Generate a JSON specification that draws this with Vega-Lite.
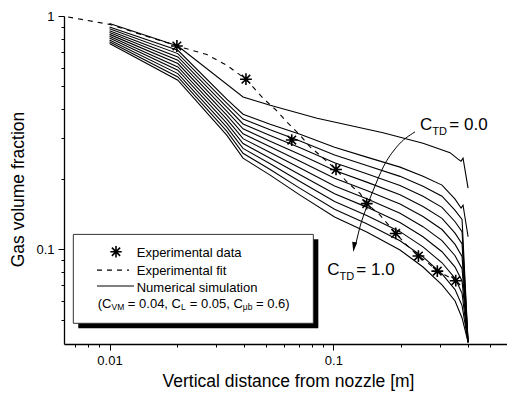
{
  "$schema": "https://vega.github.io/schema/vega-lite/v6.json",
  "width": 443,
  "height": 328,
  "autosize": "none",
  "padding": {"left": 64, "top": 16, "right": 0, "bottom": 53},
  "background": "white",
  "config": {
    "view": {"stroke": null},
    "font": "Liberation Sans",
    "axis": {"domainColor": "black", "domainWidth": 1.3, "tickColor": "black", "tickWidth": 1, "labelFontSize": 13, "labelColor": "black", "labelPadding": 4, "labelOverlap": false, "labelFlush": false, "titleFontSize": 17.5, "titleFontWeight": "normal", "titleColor": "black", "titleBaseline": "alphabetic", "grid": false}
  },
  "datasets": {
    "curves": [
      {"c":0,"x":0.01,"y":0.928},{"c":0,"x":0.0202,"y":0.744},{"c":0,"x":0.0395,"y":0.45},{"c":0,"x":0.0522,"y":0.4147},{"c":0,"x":0.0846,"y":0.3649},{"c":0,"x":0.1668,"y":0.3162},{"c":0,"x":0.2516,"y":0.2851},{"c":0,"x":0.3322,"y":0.2597},{"c":0,"x":0.3608,"y":0.2435},{"c":0,"x":0.3721,"y":0.2388},{"c":0,"x":0.3798,"y":0.2459},{"c":0,"x":0.4,"y":0.183},
      {"c":1,"x":0.01,"y":0.8973},{"c":1,"x":0.0202,"y":0.7132},{"c":1,"x":0.0334,"y":0.44},{"c":1,"x":0.0395,"y":0.3795},{"c":1,"x":0.0522,"y":0.3439},{"c":1,"x":0.071,"y":0.3116},{"c":1,"x":0.1013,"y":0.2741},{"c":1,"x":0.141,"y":0.2484},{"c":1,"x":0.1986,"y":0.2251},{"c":1,"x":0.2516,"y":0.2059},{"c":1,"x":0.3059,"y":0.1885},{"c":1,"x":0.3499,"y":0.1642},{"c":1,"x":0.3721,"y":0.1502},{"c":1,"x":0.3798,"y":0.1547},{"c":1,"x":0.4,"y":0.1132},
      {"c":2,"x":0.01,"y":0.881},{"c":2,"x":0.0202,"y":0.69},{"c":2,"x":0.0334,"y":0.423},{"c":2,"x":0.0395,"y":0.3617},{"c":2,"x":0.0522,"y":0.3252},{"c":2,"x":0.071,"y":0.2914},{"c":2,"x":0.1013,"y":0.2539},{"c":2,"x":0.141,"y":0.2288},{"c":2,"x":0.1986,"y":0.2055},{"c":2,"x":0.2516,"y":0.1864},{"c":2,"x":0.3059,"y":0.1689},{"c":2,"x":0.3499,"y":0.1469},{"c":2,"x":0.376,"y":0.1344},{"c":2,"x":0.4,"y":0.04},
      {"c":3,"x":0.01,"y":0.8651},{"c":3,"x":0.0202,"y":0.6678},{"c":3,"x":0.0334,"y":0.4067},{"c":3,"x":0.0395,"y":0.3446},{"c":3,"x":0.0522,"y":0.3075},{"c":3,"x":0.071,"y":0.2726},{"c":3,"x":0.1013,"y":0.2351},{"c":3,"x":0.141,"y":0.2107},{"c":3,"x":0.1986,"y":0.1876},{"c":3,"x":0.2516,"y":0.1687},{"c":3,"x":0.3059,"y":0.1514},{"c":3,"x":0.3499,"y":0.1313},{"c":3,"x":0.376,"y":0.119},{"c":3,"x":0.4,"y":0.04},
      {"c":4,"x":0.01,"y":0.8495},{"c":4,"x":0.0202,"y":0.6463},{"c":4,"x":0.0334,"y":0.3908},{"c":4,"x":0.0395,"y":0.3284},{"c":4,"x":0.0522,"y":0.2908},{"c":4,"x":0.071,"y":0.2549},{"c":4,"x":0.1013,"y":0.2178},{"c":4,"x":0.141,"y":0.1941},{"c":4,"x":0.1986,"y":0.1713},{"c":4,"x":0.2516,"y":0.1527},{"c":4,"x":0.3059,"y":0.1358},{"c":4,"x":0.3499,"y":0.1174},{"c":4,"x":0.376,"y":0.1054},{"c":4,"x":0.4,"y":0.04},
      {"c":5,"x":0.01,"y":0.8342},{"c":5,"x":0.0202,"y":0.6254},{"c":5,"x":0.0334,"y":0.3757},{"c":5,"x":0.0395,"y":0.3129},{"c":5,"x":0.0522,"y":0.275},{"c":5,"x":0.071,"y":0.2385},{"c":5,"x":0.1013,"y":0.2017},{"c":5,"x":0.141,"y":0.1788},{"c":5,"x":0.1986,"y":0.1565},{"c":5,"x":0.2516,"y":0.1383},{"c":5,"x":0.3059,"y":0.1216},{"c":5,"x":0.3499,"y":0.105},{"c":5,"x":0.376,"y":0.0933},{"c":5,"x":0.4,"y":0.04},
      {"c":6,"x":0.01,"y":0.8192},{"c":6,"x":0.0202,"y":0.6051},{"c":6,"x":0.0334,"y":0.3613},{"c":6,"x":0.0395,"y":0.2982},{"c":6,"x":0.0522,"y":0.26},{"c":6,"x":0.071,"y":0.2231},{"c":6,"x":0.1013,"y":0.1868},{"c":6,"x":0.141,"y":0.1647},{"c":6,"x":0.1986,"y":0.1429},{"c":6,"x":0.2516,"y":0.1251},{"c":6,"x":0.3059,"y":0.109},{"c":6,"x":0.3499,"y":0.0939},{"c":6,"x":0.376,"y":0.0826},{"c":6,"x":0.4,"y":0.04},
      {"c":7,"x":0.01,"y":0.8044},{"c":7,"x":0.0202,"y":0.5855},{"c":7,"x":0.0334,"y":0.3473},{"c":7,"x":0.0395,"y":0.2842},{"c":7,"x":0.0522,"y":0.2459},{"c":7,"x":0.071,"y":0.2087},{"c":7,"x":0.1013,"y":0.173},{"c":7,"x":0.141,"y":0.1517},{"c":7,"x":0.1986,"y":0.1304},{"c":7,"x":0.2516,"y":0.1132},{"c":7,"x":0.3059,"y":0.0977},{"c":7,"x":0.3499,"y":0.084},{"c":7,"x":0.376,"y":0.0732},{"c":7,"x":0.4,"y":0.04},
      {"c":8,"x":0.01,"y":0.7899},{"c":8,"x":0.0202,"y":0.5666},{"c":8,"x":0.0334,"y":0.3339},{"c":8,"x":0.0395,"y":0.2708},{"c":8,"x":0.0522,"y":0.2326},{"c":8,"x":0.071,"y":0.1952},{"c":8,"x":0.1013,"y":0.1603},{"c":8,"x":0.141,"y":0.1398},{"c":8,"x":0.1986,"y":0.1191},{"c":8,"x":0.2516,"y":0.1025},{"c":8,"x":0.3059,"y":0.0876},{"c":8,"x":0.3499,"y":0.0751},{"c":8,"x":0.376,"y":0.0648},{"c":8,"x":0.4,"y":0.04},
      {"c":9,"x":0.01,"y":0.7757},{"c":9,"x":0.0202,"y":0.5483},{"c":9,"x":0.0334,"y":0.321},{"c":9,"x":0.0395,"y":0.2581},{"c":9,"x":0.0522,"y":0.2199},{"c":9,"x":0.071,"y":0.1825},{"c":9,"x":0.1013,"y":0.1485},{"c":9,"x":0.141,"y":0.1287},{"c":9,"x":0.1986,"y":0.1088},{"c":9,"x":0.2516,"y":0.0928},{"c":9,"x":0.3059,"y":0.0785},{"c":9,"x":0.3499,"y":0.0672},{"c":9,"x":0.376,"y":0.0574},{"c":9,"x":0.4,"y":0.04},
      {"c":10,"x":0.01,"y":0.7617},{"c":10,"x":0.0202,"y":0.5306},{"c":10,"x":0.0334,"y":0.3085},{"c":10,"x":0.0395,"y":0.2459},{"c":10,"x":0.0522,"y":0.208},{"c":10,"x":0.071,"y":0.1708},{"c":10,"x":0.1013,"y":0.1375},{"c":10,"x":0.141,"y":0.1186},{"c":10,"x":0.1986,"y":0.0993},{"c":10,"x":0.2516,"y":0.084},{"c":10,"x":0.3059,"y":0.0704},{"c":10,"x":0.3499,"y":0.0601},{"c":10,"x":0.376,"y":0.0508},{"c":10,"x":0.4,"y":0.04}
    ],
    "fit": [
      {"x":0.00653,"y":0.99},{"x":0.01,"y":0.921},{"x":0.02,"y":0.744},{"x":0.0272,"y":0.6836},{"x":0.0334,"y":0.6151},{"x":0.0407,"y":0.5358},{"x":0.0487,"y":0.443},{"x":0.0555,"y":0.3947},{"x":0.0629,"y":0.3463},{"x":0.071,"y":0.3085},{"x":0.0787,"y":0.2749},{"x":0.0888,"y":0.249},{"x":0.1028,"y":0.22},{"x":0.1148,"y":0.1948},{"x":0.1316,"y":0.1737},{"x":0.141,"y":0.1573},{"x":0.1617,"y":0.1402},{"x":0.19,"y":0.1171},{"x":0.2128,"y":0.1043},{"x":0.2398,"y":0.0936},{"x":0.2614,"y":0.0885},{"x":0.2915,"y":0.0807},{"x":0.3156,"y":0.0776},{"x":0.3524,"y":0.0734}
    ],
    "exp": [
      {"x":0.02,"y":0.744},{"x":0.0407,"y":0.536},{"x":0.0652,"y":0.294},{"x":0.1028,"y":0.22},{"x":0.141,"y":0.157},{"x":0.19,"y":0.117},{"x":0.24,"y":0.0936},{"x":0.2915,"y":0.0807},{"x":0.3524,"y":0.0734}
    ],
    "arc": [
      {"x":0.2317,"y":0.3187},{"x":0.192,"y":0.2749},{"x":0.1673,"y":0.2257},{"x":0.1509,"y":0.1794},{"x":0.141,"y":0.1522},{"x":0.1316,"y":0.125},{"x":0.1272,"y":0.1096},{"x":0.1255,"y":0.104}
    ]
  },
  "layer": [
    {
      "data": {"name": "curves"},
      "mark": {"type": "line", "color": "black", "strokeWidth": 1.1, "clip": true},
      "encoding": {
        "x": {"field": "x", "type": "quantitative", "scale": {"type": "log", "domain": [0.00626, 0.597], "nice": false},
          "axis": {"values": [0.007,0.008,0.009,0.01,0.02,0.03,0.04,0.05,0.06,0.07,0.08,0.09,0.1,0.2,0.3,0.4,0.5], "labelExpr": "datum.value == 0.01 ? '0.01' : (datum.value == 0.1 ? '0.1' : '')", "tickSize": {"condition": {"test": "datum.value == 0.01 || datum.value == 0.1", "value": 6}, "value": 3}, "title": "Vertical distance from nozzle [m]", "titleX": 224, "titleY": 42.5}},
        "y": {"field": "y", "type": "quantitative", "scale": {"type": "log", "domain": [0.0393, 1], "nice": false},
          "axis": {"values": [0.05,0.06,0.07,0.08,0.09,0.1,0.2,0.3,0.4,0.5,0.6,0.7,0.8,0.9,1], "labelExpr": "datum.value == 1 ? '1' : (datum.value == 0.1 ? '0.1' : '')", "tickSize": {"condition": {"test": "datum.value == 1 || datum.value == 0.1", "value": 6}, "value": 3}, "title": "Gas volume fraction", "titleX": -41, "titleY": 173}},
        "detail": {"field": "c", "type": "nominal"}
      }
    },
    {
      "data": {"name": "fit"},
      "mark": {"type": "line", "color": "black", "strokeWidth": 1.1, "strokeDash": [5, 5], "clip": true},
      "encoding": {
        "x": {"field": "x", "type": "quantitative", "scale": {"type": "log", "domain": [0.00626, 0.597], "nice": false},
          "axis": {"values": [0.007,0.008,0.009,0.01,0.02,0.03,0.04,0.05,0.06,0.07,0.08,0.09,0.1,0.2,0.3,0.4,0.5], "labelExpr": "datum.value == 0.01 ? '0.01' : (datum.value == 0.1 ? '0.1' : '')", "tickSize": {"condition": {"test": "datum.value == 0.01 || datum.value == 0.1", "value": 6}, "value": 3}, "title": "Vertical distance from nozzle [m]", "titleX": 224, "titleY": 42.5}},
        "y": {"field": "y", "type": "quantitative", "scale": {"type": "log", "domain": [0.0393, 1], "nice": false},
          "axis": {"values": [0.05,0.06,0.07,0.08,0.09,0.1,0.2,0.3,0.4,0.5,0.6,0.7,0.8,0.9,1], "labelExpr": "datum.value == 1 ? '1' : (datum.value == 0.1 ? '0.1' : '')", "tickSize": {"condition": {"test": "datum.value == 1 || datum.value == 0.1", "value": 6}, "value": 3}, "title": "Gas volume fraction", "titleX": -41, "titleY": 173}}
      }
    },
    {
      "data": {"name": "exp"},
      "mark": {"type": "point", "shape": "M0,-1L0,1M-1,0L1,0M-0.72,-0.72L0.72,0.72M-0.72,0.72L0.72,-0.72", "filled": false, "color": "black", "strokeWidth": 1.6, "size": 140, "opacity": 1},
      "encoding": {
        "x": {"field": "x", "type": "quantitative", "scale": {"type": "log", "domain": [0.00626, 0.597], "nice": false},
          "axis": {"values": [0.007,0.008,0.009,0.01,0.02,0.03,0.04,0.05,0.06,0.07,0.08,0.09,0.1,0.2,0.3,0.4,0.5], "labelExpr": "datum.value == 0.01 ? '0.01' : (datum.value == 0.1 ? '0.1' : '')", "tickSize": {"condition": {"test": "datum.value == 0.01 || datum.value == 0.1", "value": 6}, "value": 3}, "title": "Vertical distance from nozzle [m]", "titleX": 224, "titleY": 42.5}},
        "y": {"field": "y", "type": "quantitative", "scale": {"type": "log", "domain": [0.0393, 1], "nice": false},
          "axis": {"values": [0.05,0.06,0.07,0.08,0.09,0.1,0.2,0.3,0.4,0.5,0.6,0.7,0.8,0.9,1], "labelExpr": "datum.value == 1 ? '1' : (datum.value == 0.1 ? '0.1' : '')", "tickSize": {"condition": {"test": "datum.value == 1 || datum.value == 0.1", "value": 6}, "value": 3}, "title": "Gas volume fraction", "titleX": -41, "titleY": 173}}
      }
    },
    {
      "data": {"name": "arc"},
      "mark": {"type": "line", "color": "black", "strokeWidth": 1, "interpolate": "monotone"},
      "encoding": {
        "x": {"field": "x", "type": "quantitative", "scale": {"type": "log", "domain": [0.00626, 0.597], "nice": false},
          "axis": {"values": [0.007,0.008,0.009,0.01,0.02,0.03,0.04,0.05,0.06,0.07,0.08,0.09,0.1,0.2,0.3,0.4,0.5], "labelExpr": "datum.value == 0.01 ? '0.01' : (datum.value == 0.1 ? '0.1' : '')", "tickSize": {"condition": {"test": "datum.value == 0.01 || datum.value == 0.1", "value": 6}, "value": 3}, "title": "Vertical distance from nozzle [m]", "titleX": 224, "titleY": 42.5}},
        "y": {"field": "y", "type": "quantitative", "scale": {"type": "log", "domain": [0.0393, 1], "nice": false},
          "axis": {"values": [0.05,0.06,0.07,0.08,0.09,0.1,0.2,0.3,0.4,0.5,0.6,0.7,0.8,0.9,1], "labelExpr": "datum.value == 1 ? '1' : (datum.value == 0.1 ? '0.1' : '')", "tickSize": {"condition": {"test": "datum.value == 1 || datum.value == 0.1", "value": 6}, "value": 3}, "title": "Gas volume fraction", "titleX": -41, "titleY": 173}}
      }
    },
    {
      "data": {"values": [
        {"t": "Experimental data", "x": 0.01323, "y": 0.0969},
        {"t": "Experimental fit", "x": 0.01323, "y": 0.0809},
        {"t": "Numerical simulation", "x": 0.01323, "y": 0.0683}
      ]},
      "layer": [
        {
          "data": {"values": [{}]},
          "mark": {"type": "rect", "fill": "black"},
          "encoding": {"x": {"datum": 0.00725}, "x2": {"datum": 0.0857}, "y": {"datum": 0.1104}, "y2": {"datum": 0.0459}}
        },
        {
          "data": {"values": [{}]},
          "mark": {"type": "rect", "fill": "white", "stroke": "#333333", "strokeWidth": 1},
          "encoding": {"x": {"datum": 0.00689}, "x2": {"datum": 0.0814}, "y": {"datum": 0.1159}, "y2": {"datum": 0.0482}}
        },
        {
          "data": {"values": [{}]},
          "mark": {"type": "point", "shape": "M0,-1L0,1M-1,0L1,0M-0.72,-0.72L0.72,0.72M-0.72,0.72L0.72,-0.72", "filled": false, "color": "black", "strokeWidth": 1.6, "size": 130, "opacity": 1},
          "encoding": {"x": {"datum": 0.01069}, "y": {"datum": 0.0977}}
        },
        {
          "data": {"values": [{}]},
          "mark": {"type": "rule", "color": "black", "strokeWidth": 1.1, "strokeDash": [5, 5]},
          "encoding": {"x": {"datum": 0.00879}, "x2": {"datum": 0.01222}, "y": {"datum": 0.0815}}
        },
        {
          "data": {"values": [{}]},
          "mark": {"type": "rule", "color": "black", "strokeWidth": 1.1},
          "encoding": {"x": {"datum": 0.00879}, "x2": {"datum": 0.01287}, "y": {"datum": 0.0697}}
        },
        {
          "mark": {"type": "text", "align": "left", "baseline": "middle", "fontSize": 13, "color": "black"},
          "encoding": {"x": {"field": "x", "type": "quantitative"}, "y": {"field": "y", "type": "quantitative"}, "text": {"field": "t"}}
        },
        {
          "data": {"values": [{}]},
          "encoding": {"x": {"datum": 0.00886}, "y": {"datum": 0.0586}},
          "layer": [
            {"mark": {"type": "text", "text": "(C", "align": "left", "baseline": "middle", "fontSize": 13, "color": "black", "dx": 0}},
            {"mark": {"type": "text", "text": "VM", "align": "left", "baseline": "middle", "fontSize": 8.5, "color": "black", "dx": 13.7, "dy": 3.5}},
            {"mark": {"type": "text", "text": "= 0.04, C", "align": "left", "baseline": "middle", "fontSize": 13, "color": "black", "dx": 30.1}},
            {"mark": {"type": "text", "text": "L", "align": "left", "baseline": "middle", "fontSize": 8.5, "color": "black", "dx": 83.2, "dy": 3.5}},
            {"mark": {"type": "text", "text": "= 0.05, C", "align": "left", "baseline": "middle", "fontSize": 13, "color": "black", "dx": 92.0}},
            {"mark": {"type": "text", "text": "μb", "align": "left", "baseline": "middle", "fontSize": 8.5, "color": "black", "dx": 145.1, "dy": 3.5}},
            {"mark": {"type": "text", "text": "= 0.6)", "align": "left", "baseline": "middle", "fontSize": 13, "color": "black", "dx": 158.3}}
          ]
        },
        {
          "data": {"values": [{}]},
          "mark": {"type": "point", "shape": "M0,1L-0.5,-1L0.5,-1Z", "filled": true, "color": "black", "size": 100, "angle": 8, "opacity": 1},
          "encoding": {"x": {"datum": 0.1237}, "y": {"datum": 0.1023}}
        },
        {
          "data": {"values": [{}]},
          "encoding": {"x": {"datum": 0.2441}, "y": {"datum": 0.3404}},
          "layer": [
            {"mark": {"type": "text", "text": "C", "align": "left", "baseline": "middle", "fontSize": 17, "color": "black", "dx": 0}},
            {"mark": {"type": "text", "text": "TD", "align": "left", "baseline": "middle", "fontSize": 11, "color": "black", "dx": 12.3, "dy": 7}},
            {"mark": {"type": "text", "text": "= 0.0", "align": "left", "baseline": "middle", "fontSize": 17, "color": "black", "dx": 29.3}}
          ]
        },
        {
          "data": {"values": [{}]},
          "encoding": {"x": {"datum": 0.094}, "y": {"datum": 0.0817}},
          "layer": [
            {"mark": {"type": "text", "text": "C", "align": "left", "baseline": "middle", "fontSize": 17, "color": "black", "dx": 0}},
            {"mark": {"type": "text", "text": "TD", "align": "left", "baseline": "middle", "fontSize": 11, "color": "black", "dx": 12.3, "dy": 7}},
            {"mark": {"type": "text", "text": "= 1.0", "align": "left", "baseline": "middle", "fontSize": 17, "color": "black", "dx": 29}}
          ]
        }
      ],
      "encoding": {
        "x": {"type": "quantitative", "scale": {"type": "log", "domain": [0.00626, 0.597], "nice": false},
          "axis": {"values": [0.007,0.008,0.009,0.01,0.02,0.03,0.04,0.05,0.06,0.07,0.08,0.09,0.1,0.2,0.3,0.4,0.5], "labelExpr": "datum.value == 0.01 ? '0.01' : (datum.value == 0.1 ? '0.1' : '')", "tickSize": {"condition": {"test": "datum.value == 0.01 || datum.value == 0.1", "value": 6}, "value": 3}, "title": "Vertical distance from nozzle [m]", "titleX": 224, "titleY": 42.5}},
        "y": {"type": "quantitative", "scale": {"type": "log", "domain": [0.0393, 1], "nice": false},
          "axis": {"values": [0.05,0.06,0.07,0.08,0.09,0.1,0.2,0.3,0.4,0.5,0.6,0.7,0.8,0.9,1], "labelExpr": "datum.value == 1 ? '1' : (datum.value == 0.1 ? '0.1' : '')", "tickSize": {"condition": {"test": "datum.value == 1 || datum.value == 0.1", "value": 6}, "value": 3}, "title": "Gas volume fraction", "titleX": -41, "titleY": 173}}
      }
    }
  ]
}
